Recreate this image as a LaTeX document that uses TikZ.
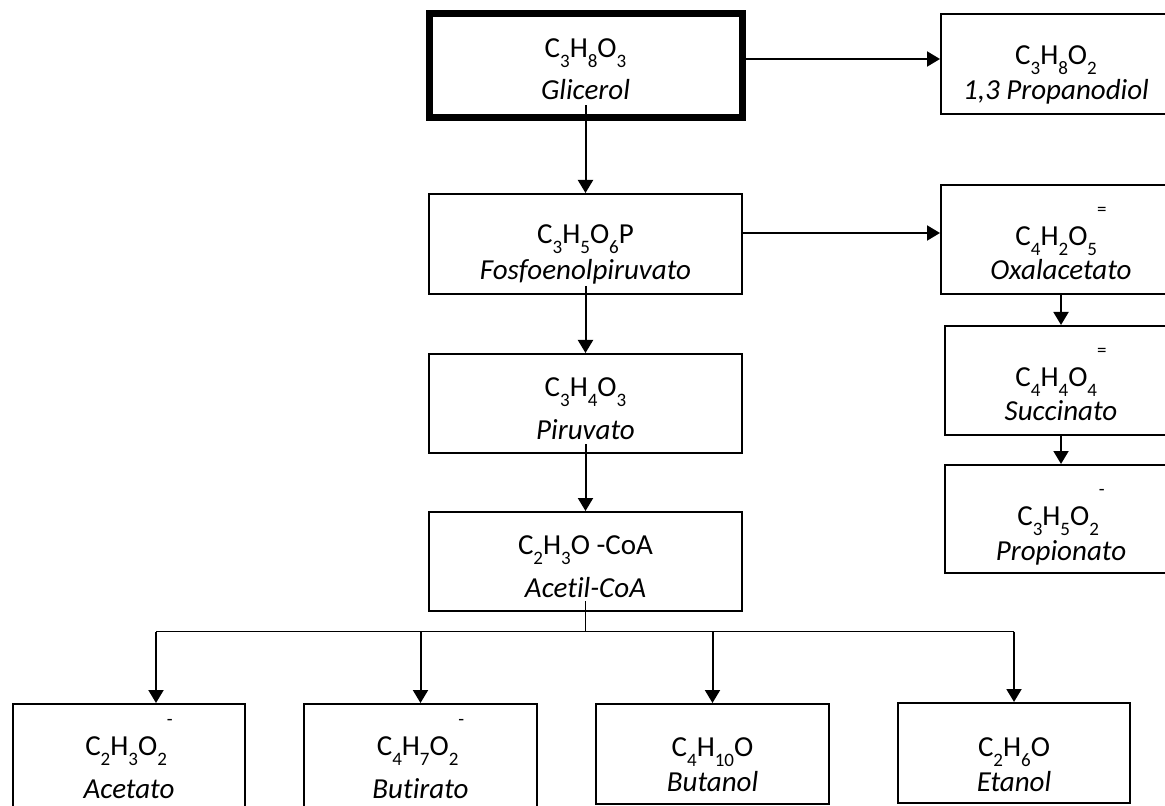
\documentclass[tikz,border=0pt]{standalone}
\usepackage{fontspec}
\setmainfont{Carlito}[Ligatures=NoCommon]
\usetikzlibrary{arrows.meta}

\newcommand{\sbs}[1]{\raisebox{-5pt}{\fontsize{9.5}{10}\selectfont #1}}
\newcommand{\chg}[1]{\smash{\raisebox{15pt}{\fontsize{9.5}{10}\selectfont #1}}}
% #1 alto de la primera linea, #2 formula, #3 ajuste del interlineado, #4 nombre
\newcommand{\mol}[4]{\rule{0pt}{#1}#2\\[#3]\textit{#4}\rule[-5pt]{0pt}{5pt}}

\tikzset{
  box/.style={draw, line width=1pt, align=center, inner sep=0pt,
    font=\fontsize{14.5}{17.5}\selectfont},
  arr/.style={-{Triangle[length=6.5pt,width=7.5pt]}, line width=1pt},
}

\begin{document}
\begin{tikzpicture}[x=0.5pt,y=-0.5pt]
\useasboundingbox (0,0) rectangle (1165,806);
\clip (0,0) rectangle (1165,806);
        \node[box, line width=3.5pt, minimum width=156.5pt, minimum height=52pt] (glic) at (585.5,66) {\mol{18pt}{C\sbs{3}H\sbs{8}O\sbs{3}}{3.5pt}{Glicerol}};
        \node[box, minimum width=115pt, minimum height=50pt] (prop13) at (1056,64) {\mol{23.5pt}{C\sbs{3}H\sbs{8}O\sbs{2}}{0pt}{1,3 Propanodiol}};
        \node[box, minimum width=156.5pt, minimum height=50pt] (fosfo) at (585.5,244) {\mol{22.3pt}{C\sbs{3}H\sbs{5}O\sbs{6}P}{0.5pt}{Fosfoenolpiruvato}};
        \node[box, minimum width=120pt, minimum height=54.5pt] (oxal) at (1061,239.5) {\mol{28.5pt}{C\sbs{4}H\sbs{2}O\sbs{5}\chg{=}}{-0.5pt}{Oxalacetato}};
        \node[box, minimum width=116pt, minimum height=54.5pt] (succ) at (1061,380.5) {\mol{28.2pt}{C\sbs{4}H\sbs{4}O\sbs{4}\chg{=}}{-0.5pt}{Succinato}};
        \node[box, minimum width=116pt, minimum height=54pt] (propi) at (1061,519) {\mol{28.5pt}{C\sbs{3}H\sbs{5}O\sbs{2}\chg{-}}{0pt}{Propionato}};
        \node[box, minimum width=156.5pt, minimum height=49.5pt] (piru) at (585.5,403.5) {\mol{19pt}{C\sbs{3}H\sbs{4}O\sbs{3}}{4pt}{Piruvato}};
        \node[box, minimum width=156.5pt, minimum height=49.5pt] (acet) at (585.5,561.5) {\mol{19pt}{C\sbs{2}H\sbs{3}O -CoA}{4pt}{Acetil-CoA}};
        \node[box, minimum width=116pt, minimum height=65.5pt] (acetato) at (129,769.5) {\mol{12pt}{C\sbs{2}H\sbs{3}O\sbs{2}\chg{-}}{4pt}{Acetato}};
        \node[box, minimum width=116.5pt, minimum height=65.5pt] (butir) at (420.5,769.5) {\mol{12pt}{C\sbs{4}H\sbs{7}O\sbs{2}\chg{-}}{4pt}{Butirato}};
        \node[box, minimum width=116.5pt, minimum height=50pt] (butan) at (712.5,754) {\mol{24.5pt}{C\sbs{4}H\sbs{10}O}{0pt}{Butanol}};
        \node[box, minimum width=116pt, minimum height=50pt] (etan) at (1014,753) {\mol{25.5pt}{C\sbs{2}H\sbs{6}O}{0pt}{Etanol}};
        \coordinate (hub) at (585.5,631.7);
        \coordinate (j1) at (156,631.7);
        \coordinate (j2) at (420.5,631.7);
        \coordinate (j3) at (712.5,631.7);
        \coordinate (j4) at (1014,631.7);
\draw[arr] ([yshift=8pt]glic.south) -- (fosfo.north);
\draw[arr] ([yshift=3.5pt]glic.east) -- ([yshift=3.5pt]glic.east -| prop13.west);
\draw[arr] ([yshift=5.5pt]fosfo.east) -- ([yshift=5.5pt]fosfo.east -| oxal.west);
\draw[arr] ([yshift=4.5pt]fosfo.south) -- (piru.north);
\draw[arr] ([yshift=5pt]piru.south) -- (acet.north);
\draw[arr] (oxal) -- (succ);
\draw[arr] (succ) -- (propi);
% ramas desde el acetil-CoA
\draw[line width=0.5pt] ([yshift=5.5pt]acet.south) -- (hub);
\draw[line width=0.5pt] (j1) -- (j4);
\draw[arr] (j1) -- (j1 |- acetato.north);
\foreach \j/\b in {j2/butir, j3/butan, j4/etan}
  \draw[arr] (\j) -- (\b);
\end{tikzpicture}
\end{document}
